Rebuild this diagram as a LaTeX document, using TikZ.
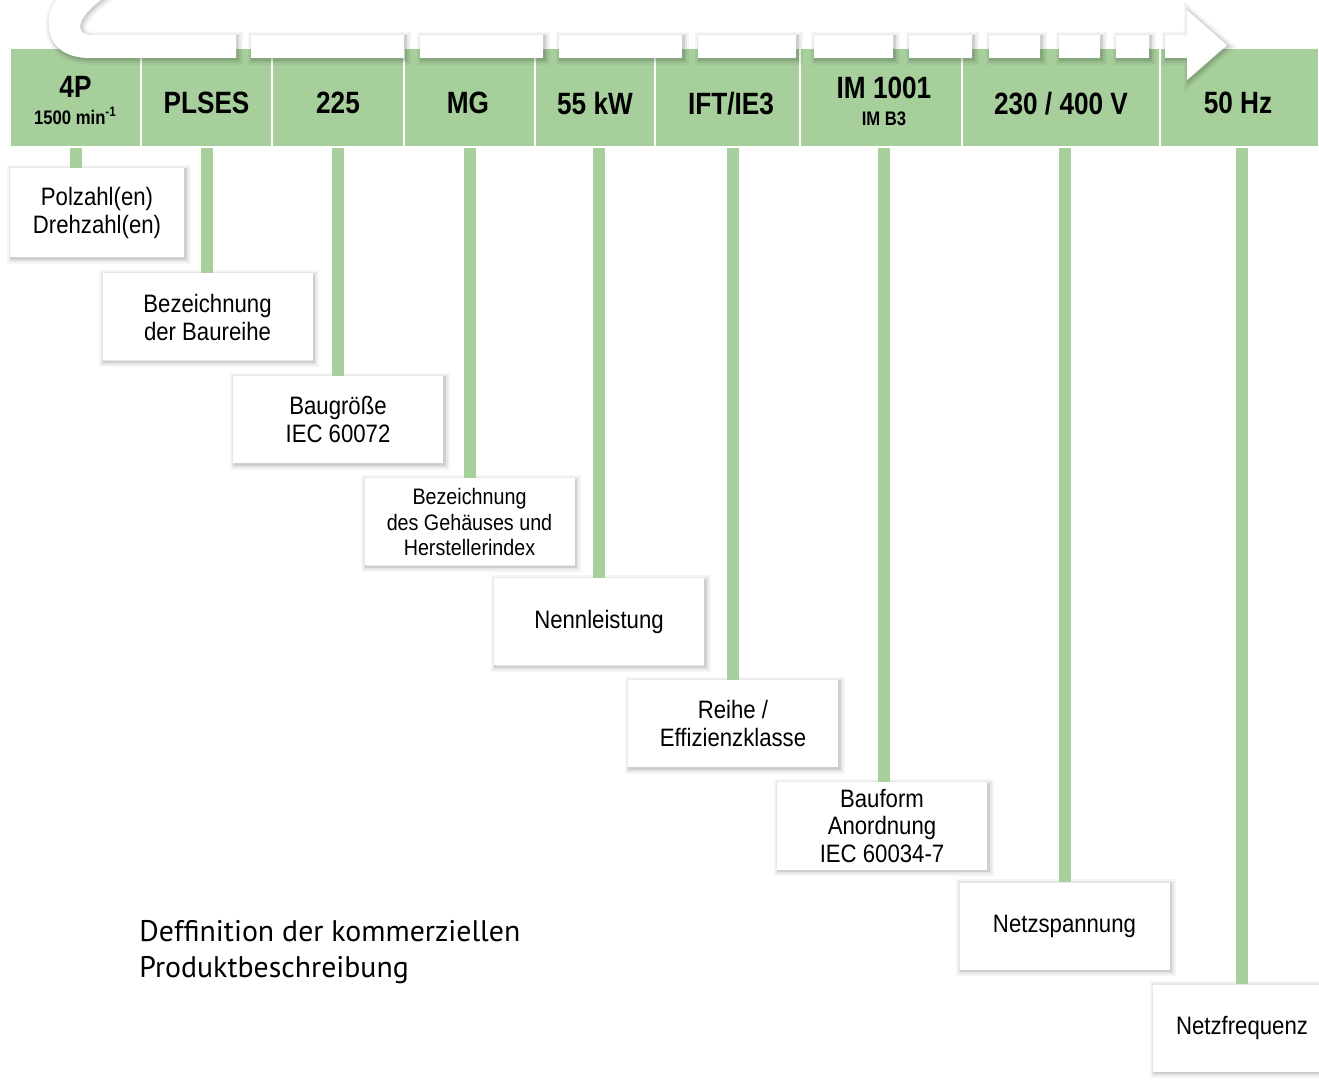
\documentclass[tikz,border=0pt]{standalone}
\usepackage{fontspec}
\setmainfont{Liberation Sans}
\newfontfamily\boxfont{Liberation Sans}[FakeStretch=0.88]
\newfontfamily\hdrfont{Liberation Sans Bold}[FakeStretch=0.85]
\newfontfamily\notefont{PT Sans}
\usetikzlibrary{positioning,shadows}
\definecolor{leaf}{HTML}{A7CF9C}

\begin{document}
\begin{tikzpicture}[x=0.5pt,y=-0.5pt,
    cell/.style={fill=leaf,draw=white,line width=1pt,minimum height=49.5pt,inner sep=0pt},
    hdr/.style={font=\hdrfont\fontsize{15.4}{13.5}\selectfont,align=center,inner sep=0pt,text depth=0pt},
    halo/.style={general shadow={draw=black,line width=5pt,opacity=.04,shadow xshift=.9pt,shadow yshift=-.9pt},
      general shadow={draw=black,line width=3pt,opacity=.06,shadow xshift=.9pt,shadow yshift=-.9pt},
      general shadow={draw=black,line width=1.3pt,opacity=.1,shadow xshift=.7pt,shadow yshift=-.7pt}},
    infobox/.style={fill=white,halo,minimum width=105pt,minimum height=43.5pt,inner sep=1pt,align=center,
      font=\boxfont\fontsize{12.6}{14}\selectfont},
    stem/.style={leaf,line width=6pt},
    band/.style={fill=white,halo},
    note/.style={font=\notefont\fontsize{14.9}{18}\selectfont,align=left,inner sep=0pt}]
  \useasboundingbox (0,0) rectangle (1319,1080);

  % green header band
  \node[cell,minimum width=65.5pt] (c1) at (75.5,97.5) {};
  \node[cell,minimum width=65.5pt] (c2) at (206.5,97.5) {};
  \node[cell,minimum width=66pt] (c3) at (338,97.5) {};
  \node[cell,minimum width=65.5pt] (c4) at (469.5,97.5) {};
  \node[cell,minimum width=60pt] (c5) at (595,97.5) {};
  \node[cell,minimum width=72.5pt] (c6) at (727.5,97.5) {};
  \node[cell,minimum width=81pt] (c7) at (881,97.5) {};
  \node[cell,minimum width=99pt] (c8) at (1061,97.5) {};
  \node[cell,minimum width=79.5pt] (c9) at (1239.5,97.5) {};

  \node[hdr] (t1) at (75.5,100) {4P\\{\fontsize{9.8}{11}\selectfont 1500 min\textsuperscript{-1}}};
  \node[hdr] (t2) at (206.5,103) {PLSES};
  \node[hdr] (t3) at (338,103) {225};
  \node[hdr] (t4) at (468,103) {MG};
  \node[hdr] (t5) at (595,103) {55 kW};
  \node[hdr] (t6) at (731,103) {IFT/IE3};
  \node[hdr] (t7) at (884,101) {IM 1001\\{\fontsize{9.8}{11}\selectfont IM B3}};
  \node[hdr] (t8) at (1061,103) {230 / 400 V};
  \node[hdr] (t9) at (1238,103) {50 Hz};

  % description boxes
  \node[infobox,minimum width=87pt,minimum height=44.5pt] (b1) at (97,212.5) {Polzahl(en)\\Drehzahl(en)};
  \node[infobox] (b2) at (207.5,317) {Bezeichnung\\der Baureihe};
  \node[infobox] (b3) at (338,419.5) {Baugröße\\IEC 60072};
  \node[infobox,font=\boxfont\fontsize{11.2}{12.8}\selectfont] (b4) at (469.5,522) {Bezeichnung\\des Gehäuses und\\Herstellerindex};
  \node[infobox] (b5) at (599,622) {Nennleistung};
  \node[infobox] (b6) at (733,723.5) {Reihe /\\Effizienzklasse};
  \node[infobox,font=\boxfont\fontsize{12.6}{13.8}\selectfont] (b7) at (882,826) {Bauform\\Anordnung\\IEC 60034-7};
  \node[infobox] (b8) at (1064.5,926) {Netzspannung};
  \node[infobox,minimum width=89pt] (b9) at (1242,1028) {Netzfrequenz};

  % stems
  \draw[stem] (c1.south) -- (c1.south |- b1.north);
  \draw[stem] (c2.south) -- (c2.south |- b2.north);
  \draw[stem] (c3.south) -- (c3.south |- b3.north);
  \draw[stem] (c4.south) -- (c4.south |- b4.north);
  \draw[stem] (b5.north |- c5.south) -- (b5.north);
  \draw[stem] (b6.north |- c6.south) -- (b6.north);
  \draw[stem] (t7.south |- c7.south) -- (t7.south |- b7.north);
  \draw[stem] (b8.north |- c8.south) -- (b8.north);
  \draw[stem] (b9.north |- c9.south) -- (b9.north);

  % dashed white process arrow
  \fill[band] (236,35) -- (93,35) .. controls (72,35) and (75,15) .. (112,-8) -- (62,-8)
    .. controls (40,15) and (42,58) .. (90,58) -- (236,58) -- cycle;
  \fill[band] (251,35) rectangle (404,58);
  \fill[band] (420,35) rectangle (543,58);
  \fill[band] (559,35) rectangle (682,58);
  \fill[band] (698,35) rectangle (796,58);
  \fill[band] (814,35) rectangle (893,58);
  \fill[band] (909,35) rectangle (972,58);
  \fill[band] (989,35) rectangle (1040,58);
  \fill[band] (1059,35) rectangle (1100,58);
  \fill[band] (1116,35) rectangle (1149,58);
  \fill[band] (1165,35) -- (1187,35) -- (1187,10) -- (1227,45) -- (1187,80) -- (1187,58) -- (1165,58) -- cycle;

  \node[note,anchor=west] (note) at (139,952) {Deffinition der kommerziellen\\Produktbeschreibung};
\end{tikzpicture}
\end{document}
